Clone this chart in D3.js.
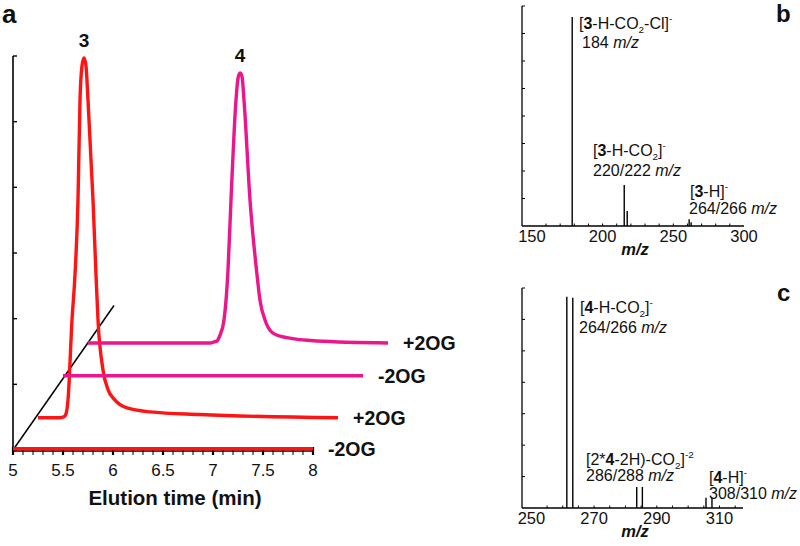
<!DOCTYPE html>
<html><head><meta charset="utf-8">
<script src="https://cdn.jsdelivr.net/npm/d3@7"></script>
<style>
body{margin:0;background:#fff}
svg{display:block;font-family:"Liberation Sans",Arial,Helvetica,sans-serif}
</style>
</head><body>
<svg id="chart" width="800" height="546"></svg>
<script>
// ---------------- DATA ----------------
// Panel a: stacked (waterfall) chromatograms
const elutionTickValues = [5, 5.5, 6, 6.5, 7, 7.5, 8];
const traceLabels = ["-2OG", "+2OG", "-2OG", "+2OG"];
const traceCompounds = ["3", "3", "4", "4"];
const traceOffsetMin = [0, 0.25, 0.5, 0.75];       // waterfall shift (min)
const traceOffsetSignal = [0.02, 0.49, 1.13, 1.63]; // waterfall shift (signal units)

const minus2OG3Time = [5.0, 8.0];
const minus2OG3Signal = [0, 0];

const plus2OG3Time = [5.00, 5.22, 5.26, 5.28, 5.30, 5.34, 5.37, 5.40, 5.42, 5.44, 5.46, 5.48, 5.50, 5.55, 5.58, 5.60, 5.65, 5.70, 5.77, 5.89, 6.12, 6.62, 8.00];
const plus2OG3Signal = [0, 0, 0.015, 0.06, 0.27, 1.49, 2.18, 3.32, 4.84, 5.36, 5.48, 5.36, 4.84, 3.32, 2.18, 1.49, 0.73, 0.43, 0.27, 0.15, 0.09, 0.05, 0];

const minus2OG4Time = [5.0, 8.0];
const minus2OG4Signal = [0, 0];

const plus2OG4Time = [5.00, 6.22, 6.26, 6.29, 6.32, 6.36, 6.40, 6.43, 6.48, 6.50, 6.52, 6.54, 6.56, 6.62, 6.69, 6.72, 6.77, 6.85, 6.99, 7.29, 8.00];
const plus2OG4Signal = [0, 0, 0.015, 0.03, 0.12, 0.35, 1.11, 2.18, 3.70, 4.03, 4.11, 4.06, 3.70, 2.18, 1.04, 0.65, 0.35, 0.15, 0.08, 0.03, 0];

const waterfallAxisSignal = [0, 2.2];  // guide line through trace origins
const waterfallAxisTime = [5, 6.01];

// Panel b: MS spectrum of 3
const bTickValues = [150, 200, 250, 300];
const bMz = [178.5, 215.3, 217.4, 261.2, 262.6];
const bIntensity = [7.6, 1.49, 0.55, 0.25, 0.14];

// Panel c: MS spectrum of 4
const cTickValues = [250, 270, 290, 310];
const cMz = [261.3, 263.2, 283.6, 285.4, 305.7, 307.6];
const cIntensity = [6.72, 6.69, 0.67, 0.67, 0.33, 0.33];

// annotation texts (segments: [text, style])
const bAnnotations = [
  [["[", ""], ["3", "b"], ["-H-CO", ""], ["2", "sub"], ["-Cl]", ""], ["-", "sup"]],
  [["184 ", ""], ["m/z", "i"]],
  [["[", ""], ["3", "b"], ["-H-CO", ""], ["2", "sub"], ["]", ""], ["-", "sup"]],
  [["220/222 ", ""], ["m/z", "i"]],
  [["[", ""], ["3", "b"], ["-H]", ""], ["-", "sup"]],
  [["264/266 ", ""], ["m/z", "i"]]
];
const cAnnotations = [
  [["[", ""], ["4", "b"], ["-H-CO", ""], ["2", "sub"], ["]", ""], ["-", "sup"]],
  [["264/266 ", ""], ["m/z", "i"]],
  [["[2*", ""], ["4", "b"], ["-2H)-CO", ""], ["2", "sub"], ["]", ""], ["-2", "sup"]],
  [["286/288 ", ""], ["m/z", "i"]],
  [["[", ""], ["4", "b"], ["-H]", ""], ["-", "sup"]],
  [["308/310 ", ""], ["m/z", "i"]]
];

// ---------------- DRAW ----------------
const svg = d3.select("#chart");
const RED = "#ff1414", PINK = "#ec168c";
const traceColors = [RED, RED, PINK, PINK];

function richText(g, x, y, segs, size) {
  const t = g.append("text").attr("x", x).attr("y", y).attr("font-size", size).attr("fill", "#111");
  let shift = 0;
  segs.forEach(([s, st]) => {
    const ts = t.append("tspan").text(s);
    let target = 0;
    if (st === "b") ts.attr("font-weight", "bold");
    if (st === "i") ts.attr("font-style", "italic");
    if (st === "sub") { ts.attr("font-size", size * 0.62); target = 4; }
    if (st === "sup") { ts.attr("font-size", size * 0.62); target = -7; }
    if (target !== shift) { ts.attr("dy", target - shift); shift = target; }
  });
  return t;
}

// ===== Panel a =====
const xA = d3.scaleLinear().domain([5, 8]).range([13, 313]);
const yA = d3.scaleLinear().domain([0, 6]).range([450, 56]);
const gA = svg.append("g");

// y axis with inward ticks
gA.append("line").attr("x1", xA(5)).attr("x2", xA(5)).attr("y1", yA(6)).attr("y2", yA(0)).attr("stroke", "#000").attr("stroke-width", 1.6);
gA.selectAll(".yt").data(d3.range(0, 7)).join("line")
  .attr("x1", xA(5)).attr("x2", xA(5) + 4).attr("y1", d => yA(d)).attr("y2", d => yA(d))
  .attr("stroke", "#000").attr("stroke-width", 1.4);

// x axis
gA.append("line").attr("x1", xA(5)).attr("x2", xA(8)).attr("y1", yA(0) + 1).attr("y2", yA(0) + 1).attr("stroke", "#000").attr("stroke-width", 1.4);
const minorA = d3.range(50, 81).map(d => d / 10);
gA.selectAll(".xm").data(minorA).join("line")
  .attr("x1", d => xA(d)).attr("x2", d => xA(d)).attr("y1", yA(0) - 3).attr("y2", yA(0) + 5)
  .attr("stroke", "#000").attr("stroke-width", d => (Math.round(d * 10) % 5 === 0 ? 2.2 : 1));
gA.selectAll(".xl").data(elutionTickValues).join("text")
  .attr("x", d => xA(d)).attr("y", 476).attr("text-anchor", "middle").attr("font-size", 17).attr("fill", "#111")
  .text(d => d);
gA.append("text").attr("x", 175).attr("y", 505).attr("text-anchor", "middle").attr("font-size", 20.5).attr("font-weight", "bold").attr("fill", "#111").text("Elution time (min)");

// waterfall guide line
gA.append("line")
  .attr("x1", xA(waterfallAxisTime[0])).attr("y1", yA(waterfallAxisSignal[0]))
  .attr("x2", xA(waterfallAxisTime[1])).attr("y2", yA(waterfallAxisSignal[1]))
  .attr("stroke", "#000").attr("stroke-width", 1.5);

const traceTimes = [minus2OG3Time, plus2OG3Time, minus2OG4Time, plus2OG4Time];
const traceSignals = [minus2OG3Signal, plus2OG3Signal, minus2OG4Signal, plus2OG4Signal];
const lineGen = d3.line().curve(d3.curveMonotoneX);
traceTimes.forEach((ts, i) => {
  const pts = ts.map((t, j) => [xA(t + traceOffsetMin[i]), yA(traceSignals[i][j] + traceOffsetSignal[i])]);
  gA.append("path").attr("d", lineGen(pts)).attr("fill", "none").attr("stroke", traceColors[i])
    .attr("stroke-width", 3.4).attr("stroke-linejoin", "round").attr("stroke-linecap", "butt");
  const endT = ts[ts.length - 1] + traceOffsetMin[i];
  gA.append("text").attr("x", xA(endT) + 15).attr("y", yA(traceOffsetSignal[i]) + 7)
    .attr("font-size", 19.5).attr("font-weight", "bold").attr("fill", "#111").text(traceLabels[i]);
});
// compound labels above peaks
[1, 3].forEach(i => {
  const sig = traceSignals[i], k = sig.indexOf(d3.max(sig));
  gA.append("text").attr("x", xA(traceTimes[i][k] + traceOffsetMin[i])).attr("y", yA(sig[k] + traceOffsetSignal[i]) - 11)
    .attr("text-anchor", "middle").attr("font-size", 19).attr("font-weight", "bold").attr("fill", "#111").text(traceCompounds[i]);
});
svg.append("text").attr("x", 2).attr("y", 23).attr("font-size", 26).attr("font-weight", "bold").attr("fill", "#111").text("a");

// ===== spectrum panels =====
function spectrum(cfg) {
  const g = svg.append("g");
  const x = d3.scaleLinear().domain(cfg.xDomain).range(cfg.xRange);
  const y = d3.scaleLinear().domain([0, cfg.yMax]).range(cfg.yRange);
  // axes
  g.append("line").attr("x1", cfg.xRange[0]).attr("x2", cfg.xRange[0]).attr("y1", cfg.yRange[1]).attr("y2", cfg.yRange[0]).attr("stroke", "#000").attr("stroke-width", 1.3);
  g.append("line").attr("x1", cfg.xRange[0]).attr("x2", cfg.xRange[1]).attr("y1", cfg.yRange[0]).attr("y2", cfg.yRange[0]).attr("stroke", "#000").attr("stroke-width", 1.3);
  g.selectAll(".yt").data(d3.range(1, cfg.yMax + 1)).join("line")
    .attr("x1", cfg.xRange[0]).attr("x2", cfg.xRange[0] + 3).attr("y1", d => y(d)).attr("y2", d => y(d)).attr("stroke", "#000").attr("stroke-width", 1);
  g.selectAll(".xt").data(cfg.minor).join("line")
    .attr("x1", d => x(d)).attr("x2", d => x(d)).attr("y1", cfg.yRange[0]).attr("y2", cfg.yRange[0] - 2.5).attr("stroke", "#000").attr("stroke-width", 1);
  g.selectAll(".xl").data(cfg.ticks).join("text")
    .attr("x", d => x(d)).attr("y", cfg.yRange[0] + 16).attr("text-anchor", "middle").attr("font-size", 16.5).attr("fill", "#111").text(d => d);
  g.append("text").attr("x", 635).attr("y", cfg.yRange[0] + 29).attr("text-anchor", "middle").attr("font-size", 16.5)
    .attr("font-weight", "bold").attr("font-style", "italic").attr("fill", "#111").text("m/z");
  // peaks
  g.selectAll(".pk").data(cfg.mz).join("line")
    .attr("x1", d => x(d)).attr("x2", d => x(d)).attr("y1", y(0)).attr("y2", (d, i) => y(cfg.intensity[i]))
    .attr("stroke", "#000").attr("stroke-width", 1.4);
  cfg.annotations.forEach((segs, i) => richText(g, cfg.annPos[i][0], cfg.annPos[i][1], segs, 16));
}

spectrum({
  xDomain: [143, 300], xRange: [522, 744], yMax: 8, yRange: [226, 6],
  ticks: bTickValues, minor: d3.range(160, 300, 10),
  mz: bMz, intensity: bIntensity, annotations: bAnnotations,
  annPos: [[579, 29], [582, 48], [593, 156], [593, 176], [690, 197], [689, 214]]
});
spectrum({
  xDomain: [247, 317.5], xRange: [522, 743], yMax: 7, yRange: [508, 288],
  ticks: cTickValues, minor: d3.range(255, 317, 5),
  mz: cMz, intensity: cIntensity, annotations: cAnnotations,
  annPos: [[580, 313], [579, 333], [586, 465], [586, 481], [709, 483], [709, 499]]
});
svg.append("text").attr("x", 776).attr("y", 22).attr("font-size", 24).attr("font-weight", "bold").attr("fill", "#111").text("b");
svg.append("text").attr("x", 777).attr("y", 301).attr("font-size", 24).attr("font-weight", "bold").attr("fill", "#111").text("c");
</script>
</body></html>
